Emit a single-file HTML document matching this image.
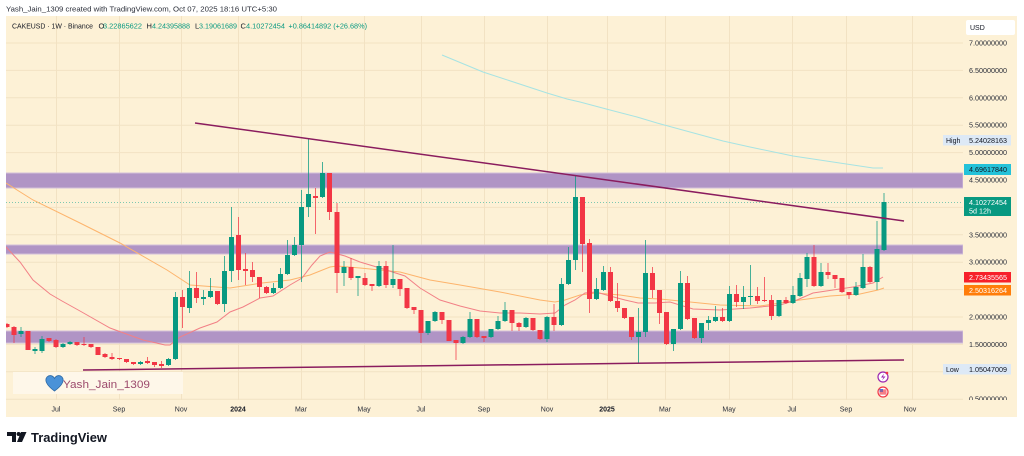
<!DOCTYPE html>
<html><head><meta charset="utf-8"><style>
html,body{margin:0;padding:0;background:#fff;}
svg{display:block;font-family:"Liberation Sans",Arial,sans-serif;}
</style></head><body>
<svg width="1024" height="456" viewBox="0 0 1024 456" xmlns="http://www.w3.org/2000/svg">
<defs>
<clipPath id="pane"><rect x="6" y="16" width="957" height="384"/></clipPath>
<clipPath id="axis"><rect x="940" y="16" width="80" height="384"/></clipPath>
</defs>
<rect width="1024" height="456" fill="#fff"/>
<text x="6" y="11.5" font-size="7.5" fill="#2a2e39" textLength="271" lengthAdjust="spacingAndGlyphs">Yash_Jain_1309 created with TradingView.com, Oct 07, 2025 18:16 UTC+5:30</text>
<rect x="6" y="16" width="1011" height="401" fill="#fdf1d6"/>
<!-- grid -->
<g stroke="#f2e2c3" stroke-width="1" clip-path="url(#pane)">
<path d="M6 43H963M6 70.4H963M6 97.8H963M6 125.2H963M6 152.6H963M6 180H963M6 207.4H963M6 234.8H963M6 262.2H963M6 289.6H963M6 317H963M6 344.4H963M6 371.8H963M6 399.2H963"/>
<path d="M56.5 16V400M119.5 16V400M181.5 16V400M238.5 16V400M301.5 16V400M364.5 16V400M421.5 16V400M484.5 16V400M547.5 16V400M607.5 16V400M665.5 16V400M729.5 16V400M792.5 16V400M846.5 16V400M912.5 16V400"/>
</g>
<!-- header line 2 -->
<g font-size="7.5">
<text x="12" y="28.5" fill="#131722" textLength="81" lengthAdjust="spacingAndGlyphs">CAKEUSD · 1W · Binance</text>
<text x="98.5" y="28.5" fill="#131722">O</text><text x="103" y="28.5" fill="#089981" textLength="39" lengthAdjust="spacingAndGlyphs">3.22865622</text>
<text x="146.5" y="28.5" fill="#131722">H</text><text x="152" y="28.5" fill="#089981" textLength="38" lengthAdjust="spacingAndGlyphs">4.24395888</text>
<text x="195" y="28.5" fill="#131722">L</text><text x="199" y="28.5" fill="#089981" textLength="38" lengthAdjust="spacingAndGlyphs">3.19061689</text>
<text x="240.5" y="28.5" fill="#131722">C</text><text x="246" y="28.5" fill="#089981" textLength="39" lengthAdjust="spacingAndGlyphs">4.10272454</text>
<text x="288.5" y="28.5" fill="#089981" textLength="78.5" lengthAdjust="spacingAndGlyphs">+0.86414892 (+26.68%)</text>
</g>
<g clip-path="url(#pane)">
<!-- bands -->
<g fill="#b094c5" stroke="#d2bfd9" stroke-width="1">
<rect x="5" y="173" width="958" height="15"/>
<rect x="5" y="245" width="958" height="9"/>
<rect x="5" y="331" width="958" height="12"/>
</g>
<!-- current price dotted -->
<line x1="6" y1="202.5" x2="963" y2="202.5" stroke="#5fbfa8" stroke-width="1" stroke-dasharray="1,2" opacity="0.8"/>
<!-- MAs -->
<polyline fill="none" stroke="#a6e3e3" stroke-width="1" points="442,55 483,72 547,93 567,99 580,102 610,110 637,117 657,123 690,132 723,141 750,147 793,156 833,162 873,168 883,168"/>
<polyline fill="none" stroke="#fdb46c" stroke-width="1" points="6,183 33,200 80,223 120,243 167,270 190,285 230,288 262,283 290,280 310,275 330,267 337,266 360,268 380,270 400,272 430,280 460,285 500,292 540,300 555,302 565,300 580,295 596,293 620,295 640,298 660,299 690,302 720,305 760,306 800,300 830,296 860,294 878,290 884,288"/>
<polyline fill="none" stroke="#f28086" stroke-width="1" points="6,247 20,262 33,280 50,294 62,301 80,311 110,328 143,340 165,345 170,345 180,337 200,328 217,322 230,312 243,307 260,298 273,296 290,285 302,278 312,265 320,256 330,252 345,256 360,262 380,268 405,276 420,288 440,300 460,306 480,311 500,313 520,313 540,314 555,313 565,305 575,300 585,293 596,292 610,296 625,300 638,303 655,303 670,302 693,309 720,310 750,308 780,305 797,300 813,293 833,290 853,287 873,283 883,277"/>
<!-- candles wicks -->
<path fill="none" stroke="#089981" stroke-width="1" opacity="0.75" d="M21 327V337M35 347V354M42 336V353M63 343V348M70 341V345M140.5 361V365M168.5 358V366M175.5 292V360M189.5 271V313M203.5 290V305M210.5 278V298M224.5 256V312M231.5 207V282M273.5 283V294M280.5 268V289M287.5 240V275M294.5 237V256M301.5 190V282M308.5 139V217M322.5 162V198M344 261V286M358 276V296M379 261V287M393 245V288M428 321V335M435 311V322M463 336V344M470 312V338M491 329V338M498 316V330M505 302V322M526 317V328M547 316V342M561.5 278V326M568.5 247V285M575.5 176V270M596.5 278V300M603.5 266V291M638.5 308V363M645.5 240V337M673.5 329V351M680.5 271V330M701.5 323V343M708.5 316V330M715.5 306V322M729.5 286V322M743.5 286V309M750.5 265V305M779 300V317M793 286V304M800 273V297M807 253V287M821 263V287M856 282V296M863 254V289M877 221V290M884 193V251"/>
<path fill="none" stroke="#f23645" stroke-width="1" opacity="0.75" d="M7 323V328M14 326V343M28 331V350M49 338V342M56 339V348M77 342V346M84 337V346M91 344V348M98 347V355M105 353V358M112 353V360M119.5 358V360M126.5 359V363M133.5 362V365M147.5 357V364M154.5 362V367M161.5 361V368M182.5 290V328M196.5 272V303M217.5 291V305M238.5 217V280M245.5 253V285M252.5 262V282M259.5 277V298M266.5 286V294M315.5 188V234M329.5 173V220M337 203V293M351 258V280M365 273V286M372 284V291M386 261V288M400 279V296M407 288V309M414 307V314M421 310V343M442 312V324M449 320V341M456 340V360M477 319V338M484 336V342M512 310V331M519 322V331M533 318V331M540 330V340M554 304V331M582.5 197V272M589.5 239V313M610.5 267V302M617.5 283V312M624.5 308V319M631.5 317V340M652.5 267V298M659.5 290V324M666.5 312V345M687.5 276V320M694.5 318V339M722.5 308V322M736.5 285V307M757.5 287V304M764.5 277V302M771.5 295V320M786 297V304M814 245V287M828 263V279M835 275V288M842 278V293M849 292V299M870 266V283"/>
<!-- candle bodies -->
<path fill="#089981" d="M18.5 331h5V334h-5zM32.5 349h5V351h-5zM39.5 339h5V351h-5zM60.5 344h5V347h-5zM67.5 342h5V344h-5zM138 362h5V364h-5zM166 359h5V365h-5zM173 297h5V359h-5zM187 288h5V308h-5zM201 297h5V299h-5zM208 291h5V297h-5zM222 271h5V304h-5zM229 237h5V271h-5zM271 288h5V293h-5zM278 274h5V288h-5zM285 255h5V274h-5zM292 245h5V255h-5zM299 207h5V245h-5zM306 194h5V207h-5zM320 173h5V197h-5zM341.5 267h5V273h-5zM355.5 276h5V278h-5zM376.5 266h5V286h-5zM390.5 279h5V285h-5zM425.5 321h5V333h-5zM432.5 312h5V321h-5zM460.5 337h5V343h-5zM467.5 319h5V337h-5zM488.5 329h5V337h-5zM495.5 321h5V329h-5zM502.5 310h5V321h-5zM523.5 318h5V327h-5zM544.5 317h5V339h-5zM559 284h5V325h-5zM566 260h5V284h-5zM573 197h5V260h-5zM594 289h5V299h-5zM601 272h5V290h-5zM636 332h5V337h-5zM643 273h5V332h-5zM671 329h5V344h-5zM678 283h5V329h-5zM699 323h5V338h-5zM706 320h5V323h-5zM713 317h5V321h-5zM727 294h5V321h-5zM741 297h5V302h-5zM748 296h5V297h-5zM776.5 300h5V316h-5zM790.5 295h5V303h-5zM797.5 278h5V296h-5zM804.5 257h5V279h-5zM818.5 272h5V286h-5zM853.5 287h5V295h-5zM860.5 267h5V288h-5zM874.5 249h5V282h-5zM881.5 202h5V250h-5z"/>
<path fill="#f23645" d="M4.5 324h5V327h-5zM11.5 327h5V335h-5zM25.5 331h5V350h-5zM46.5 338h5V341h-5zM53.5 340h5V347h-5zM74.5 342h5V345h-5zM81.5 344h5V345h-5zM88.5 344h5V347h-5zM95.5 347h5V355h-5zM102.5 354h5V357h-5zM109.5 357h5V359h-5zM117 358h5V359h-5zM124 359h5V362h-5zM131 362h5V364h-5zM145 361h5V363h-5zM152 362h5V365h-5zM159 364h5V366h-5zM180 297h5V307h-5zM194 288h5V298h-5zM215 291h5V304h-5zM236 235h5V270h-5zM243 269h5V271h-5zM250 270h5V277h-5zM257 277h5V287h-5zM264 287h5V293h-5zM313 196h5V198h-5zM327 173h5V212h-5zM334.5 212h5V273h-5zM348.5 267h5V278h-5zM362.5 278h5V285h-5zM369.5 284h5V286h-5zM383.5 266h5V285h-5zM397.5 279h5V289h-5zM404.5 288h5V308h-5zM411.5 307h5V310h-5zM418.5 310h5V333h-5zM439.5 312h5V320h-5zM446.5 320h5V341h-5zM453.5 340h5V343h-5zM474.5 319h5V337h-5zM481.5 336h5V338h-5zM509.5 310h5V323h-5zM516.5 323h5V327h-5zM530.5 318h5V330h-5zM537.5 330h5V339h-5zM551.5 317h5V325h-5zM580 197h5V244h-5zM587 243h5V299h-5zM608 272h5V301h-5zM615 301h5V308h-5zM622 308h5V318h-5zM629 317h5V337h-5zM650 273h5V290h-5zM657 290h5V313h-5zM664 312h5V344h-5zM685 283h5V319h-5zM692 318h5V338h-5zM720 317h5V321h-5zM734 294h5V302h-5zM755 296h5V301h-5zM762 300h5V301h-5zM769 300h5V316h-5zM783.5 300h5V303h-5zM811.5 257h5V286h-5zM825.5 272h5V275h-5zM832.5 275h5V279h-5zM839.5 278h5V292h-5zM846.5 292h5V295h-5zM867.5 267h5V282h-5z"/>
<!-- trend lines -->
<line x1="195" y1="123" x2="904" y2="221" stroke="#8a1c5e" stroke-width="1.5"/>
<line x1="83" y1="370" x2="904" y2="360" stroke="#8a1c5e" stroke-width="1.5"/>
<!-- watermark -->
<rect x="13" y="372" width="170" height="22" fill="#fef7e9"/>
<path d="M54.5 391 C46 385 44.5 380 47 377 C49.5 374.5 53 375.5 54.5 378.5 C56 375.5 59.5 374.5 62 377 C64.5 380 63 385 54.5 391Z" fill="#4a92d8" stroke="#2d6aa5" stroke-width="0.8"/>
<text x="63" y="388" font-size="11" fill="#9c4a6c" textLength="87" lengthAdjust="spacingAndGlyphs">Yash_Jain_1309</text>
<!-- event icons -->
<circle cx="883" cy="377" r="5" fill="#fff" stroke="#9c27b0" stroke-width="1.2"/>
<path d="M884 373.5 L881 377.5 H883.5 L882 380.5 L885.5 376.5 H883 Z" fill="#9c27b0"/>
<circle cx="887" cy="373" r="1.3" fill="#f23645"/>
<circle cx="883" cy="392" r="5" fill="#fff" stroke="#f23645" stroke-width="1.2"/>
<rect x="879.5" y="389" width="7" height="6" fill="#f7a8ad"/>
<rect x="879.5" y="389" width="3.5" height="3" fill="#4a7fd6"/>
<path d="M879.5 391h7M879.5 393h7" stroke="#f23645" stroke-width="0.8"/>
</g>
<!-- time axis -->
<g font-size="7" fill="#2a2e39" text-anchor="middle">
<text x="56" y="411.5">Jul</text><text x="119" y="411.5">Sep</text><text x="181" y="411.5">Nov</text>
<text x="238" y="411.5" font-weight="bold" fill="#131722">2024</text>
<text x="301" y="411.5">Mar</text><text x="364" y="411.5">May</text><text x="421" y="411.5">Jul</text><text x="484" y="411.5">Sep</text><text x="547" y="411.5">Nov</text>
<text x="607" y="411.5" font-weight="bold" fill="#131722">2025</text>
<text x="665" y="411.5">Mar</text><text x="729" y="411.5">May</text><text x="792" y="411.5">Jul</text><text x="846" y="411.5">Sep</text><text x="910" y="411.5">Nov</text>
</g>
<!-- price axis -->
<rect x="966" y="20" width="49" height="15" rx="2" fill="#fff"/>
<text x="970" y="30" font-size="7" fill="#131722">USD</text>
<g font-size="7.2" fill="#2a2e39" clip-path="url(#axis)">
<text x="969" y="45.5" textLength="38" lengthAdjust="spacingAndGlyphs">7.00000000</text>
<text x="969" y="73" textLength="38" lengthAdjust="spacingAndGlyphs">6.50000000</text>
<text x="969" y="100.3" textLength="38" lengthAdjust="spacingAndGlyphs">6.00000000</text>
<text x="969" y="127.7" textLength="38" lengthAdjust="spacingAndGlyphs">5.50000000</text>
<text x="969" y="155.1" textLength="38" lengthAdjust="spacingAndGlyphs">5.00000000</text>
<text x="969" y="182.5" textLength="38" lengthAdjust="spacingAndGlyphs">4.50000000</text>
<text x="969" y="237.3" textLength="38" lengthAdjust="spacingAndGlyphs">3.50000000</text>
<text x="969" y="264.7" textLength="38" lengthAdjust="spacingAndGlyphs">3.00000000</text>
<text x="969" y="319.5" textLength="38" lengthAdjust="spacingAndGlyphs">2.00000000</text>
<text x="969" y="346.9" textLength="38" lengthAdjust="spacingAndGlyphs">1.50000000</text>
<text x="969" y="401.7" textLength="38" lengthAdjust="spacingAndGlyphs">0.50000000</text>
</g>
<!-- High -->
<rect x="943" y="135" width="68" height="10.5" fill="#dde9f6"/>
<text x="946" y="142.8" font-size="7" fill="#131722">High</text>
<text x="969" y="142.8" font-size="7.2" fill="#131722" textLength="38" lengthAdjust="spacingAndGlyphs">5.24028163</text>
<!-- cyan -->
<rect x="964" y="164" width="47" height="11" fill="#24c2d9"/>
<text x="969" y="172.2" font-size="7.2" fill="#131722" textLength="38" lengthAdjust="spacingAndGlyphs">4.69617840</text>
<!-- green current -->
<rect x="964" y="197" width="47" height="19" fill="#089981"/>
<text x="969" y="205" font-size="7.2" fill="#fff" textLength="38" lengthAdjust="spacingAndGlyphs">4.10272454</text>
<text x="969" y="213.5" font-size="7.2" fill="#fff">5d 12h</text>
<!-- red -->
<rect x="964" y="272" width="47" height="10.5" fill="#f7202a"/>
<text x="969" y="279.8" font-size="7.2" fill="#fff" textLength="38" lengthAdjust="spacingAndGlyphs">2.73435565</text>
<!-- orange -->
<rect x="964" y="285" width="47" height="10.5" fill="#ff7d0a"/>
<text x="969" y="292.8" font-size="7.2" fill="#fff" textLength="38" lengthAdjust="spacingAndGlyphs">2.50316264</text>
<!-- Low -->
<rect x="943" y="364" width="68" height="10.5" fill="#dde9f6"/>
<text x="946" y="371.8" font-size="7" fill="#131722">Low</text>
<text x="969" y="371.8" font-size="7.2" fill="#131722" textLength="38" lengthAdjust="spacingAndGlyphs">1.05047009</text>
<!-- TradingView logo -->
<path d="M7 432h9v10h-4v-6h-5z" fill="#131722"/>
<circle cx="18.6" cy="434" r="2" fill="#131722"/>
<path d="M21 432h5.5l-4.5 10h-5z" fill="#131722"/>
<text x="31" y="442" font-size="13" font-weight="bold" fill="#131722" textLength="76" lengthAdjust="spacingAndGlyphs">TradingView</text>
</svg>
</body></html>
